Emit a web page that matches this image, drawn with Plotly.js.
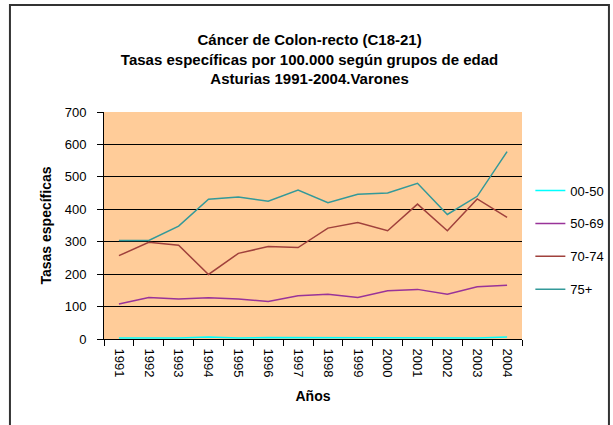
<!DOCTYPE html>
<html>
<head>
<meta charset="utf-8">
<script src="https://cdn.plot.ly/plotly-3.0.1.min.js"></script>
<style>
html,body{margin:0;padding:0;background:#fff;}
#chart{width:613px;height:425px;}
</style>
</head>
<body>
<div id="chart"></div>
<script>
var years = ['1991','1992','1993','1994','1995','1996','1997','1998','1999','2000','2001','2002','2003','2004'];
var seriesNames = ['00-50','50-69','70-74','75+'];
var g00_50 = [3, 3, 3, 6, 3, 5, 5, 5, 5, 5, 5, 3, 3, 6];
var g50_69 = [108, 128, 123, 127, 123, 116, 133, 138, 128, 149, 153, 138, 161, 166];
var g70_74 = [257, 298, 289, 199, 264, 285, 282, 342, 359, 334, 416, 334, 432, 375];
var g75p   = [304, 304, 348, 431, 438, 425, 459, 420, 446, 450, 480, 384, 440, 578];
var yTicks = [0,100,200,300,400,500,600,700];

var colors = ['#00FFFF','#993399','#A0413C','#339999'];
var data = [g00_50, g50_69, g70_74, g75p].map(function(v,i){
  return {x: years, y: v, type:'scatter', mode:'lines', name: seriesNames[i],
          legendgroup: 'g'+i, line:{color: colors[i], width:1.5}};
});

var font = 'Liberation Sans, Arial, sans-serif';
var layout = {
  width:613, height:425,
  margin:{l:104, r:91, t:112, b:86, autoexpand:false},
  paper_bgcolor:'#ffffff',
  plot_bgcolor:'#FFCC99',
  font:{family:font, size:12, color:'#000'},
  title:{text:'<b>Cáncer de Colon-recto (C18-21)<br>Tasas específicas por 100.000 según grupos de edad<br>Asturias 1991-2004.Varones</b>',
         x:0.505, xanchor:'center', y:0.893, yanchor:'top', yref:'container',
         font:{family:font, size:15, color:'#000'}},
  xaxis:{type:'category', tickangle:90, ticks:'outside', ticklen:6, tickcolor:'#000',
         ticklabelstandoff:6,
         tickson:'boundaries', showline:true, linecolor:'#000', linewidth:1, showgrid:false,
         range:[-0.5,13.5], tickfont:{size:13},
         title:{text:'<b>Años</b>', font:{size:14}, standoff:14}},
  yaxis:{range:[0,700], tickvals:yTicks, ticks:'outside', ticklen:6, tickcolor:'#000',
         ticklabelstandoff:8,
         showline:true, linecolor:'#000', linewidth:1, showgrid:true, gridcolor:'#000', gridwidth:1,
         zeroline:false, tickfont:{size:13},
         title:{text:'<b>Tasas específicas</b>', font:{size:14}, standoff:9}},
  legend:{x:1.02, xanchor:'left', y:0.72, yanchor:'top', tracegroupgap:13,
          font:{size:13}, bgcolor:'rgba(0,0,0,0)'},
  showlegend:true,
  shapes:[{type:'rect', xref:'paper', yref:'paper', x0:-0.225, x1:1.208, y0:-0.5, y1:1.471,
           line:{color:'#333', width:2}, fillcolor:'rgba(0,0,0,0)', layer:'below'}]
};
Plotly.newPlot('chart', data, layout, {staticPlot:true});
</script>
</body>
</html>
